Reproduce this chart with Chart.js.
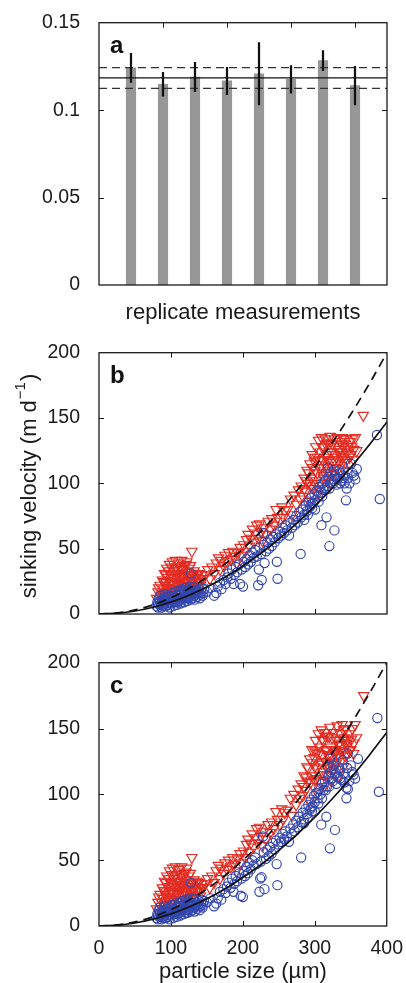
<!DOCTYPE html>
<html>
<head>
<meta charset="utf-8">
<script src="https://cdn.jsdelivr.net/npm/chart.js@4.4.1/dist/chart.umd.min.js"></script>
<style>
body { margin: 0; background: #fff; }
#wrap { position: relative; width: 406px; height: 983px; }
.box { position: absolute; left: 0; width: 406px; }
</style>
</head>
<body>
<div id="wrap">
  <div class="box" style="top:0;height:330px"><canvas id="chartA"></canvas></div>
  <div class="box" style="top:330px;height:310px"><canvas id="chartB"></canvas></div>
  <div class="box" style="top:640px;height:343px"><canvas id="chartC"></canvas></div>
</div>
<script>
// panel a: replicate measurements
const replicates = [1, 2, 3, 4, 5, 6, 7, 8];
const replicateMeans = [0.1242, 0.1148, 0.1189, 0.1167, 0.1208, 0.1176, 0.1283, 0.1140];
const replicateErrors = [0.0083, 0.0068, 0.0084, 0.0078, 0.0178, 0.0079, 0.0058, 0.0110];
const overallMean = 0.1185;
const overallLow = 0.1125;
const overallHigh = 0.1243;

// fitted curves (panels b and c)
const fitSizes = [0, 25, 50, 75, 100, 125, 150, 175, 200, 225, 250, 275, 300, 325, 350, 375, 400];
const fitSolid = [0, 0.6, 2.3, 5.2, 9.2, 14.4, 20.7, 28.1, 36.8, 46.5, 57.4, 69.5, 82.7, 97.0, 112.5, 129.2, 147];
const fitDashed = [0, 0.8, 3.1, 7.0, 12.5, 19.5, 28.1, 38.3, 50, 63.3, 78.1, 94.5, 112.5, 132, 153.1, 175.8, 200];

// panel b points [size, velocity]
const bRed = [
  [80,12],[82,17],[84,9],[85,22],[86,14],[88,26],[89,11],[90,19],[91,31],[92,15],[93,24],[94,35],[95,12],[96,28],[97,20],[98,38],[99,16],[100,30],[101,24],[102,40],[103,19],[104,33],[105,27],[106,41],[107,15],[108,36],[109,22],[110,30],[111,39],[112,18],[113,26],[114,34],[115,41],[116,21],[117,29],[118,37],[119,14],[120,25],[121,32],[122,40],[123,19],[124,28],[125,35],[126,22],[127,30],[129,48],[130,26],[132,33],[133,20],[135,28],[137,24],[139,31],[141,22],[144,27],
  [83,20],[87,16],[90,25],[93,30],[95,20],[97,33],[99,24],[101,36],[103,28],[105,35],[107,24],[109,31],[111,25],[113,36],[115,28],[117,34],[119,30],[121,38],[123,26],[125,30],[127,37],[128,24],[131,30],[134,24],[136,31],[138,27],[140,25],[143,30],[100,20],[110,22],[120,18],[130,20],[92,22],[96,17],[104,23],[108,28],[114,29],[118,24],[122,22],[126,27],
  [148,30],[151,34],[154,27],[157,36],[160,31],[163,39],[166,43],[168,34],[170,41],[173,37],[175,45],[178,40],[180,47],[183,42],[186,48],[188,44],[191,39],[193,47],[196,51],[198,45],[201,53],[203,48],[205,57],[207,61],[209,52],[211,58],[213,65],[215,55],[217,62],[219,68],[221,58],[223,69],[225,63],[227,56],[229,66],[232,61],[235,71],[238,65],[240,73],[243,68],[246,80],[248,74],[251,71],[254,82],[256,74],[258,79],
  [262,80],[266,88],[268,76],[271,91],[274,84],[277,95],[279,88],[281,98],[283,90],[285,104],[287,94],[289,110],[290,100],[292,86],[293,115],[295,104],[296,122],[298,96],[299,117],[300,110],[301,128],[302,102],[303,120],[304,92],[305,133],[306,112],[307,124],[308,100],[309,135],[310,118],[311,106],[312,128],[313,96],[314,134],[315,114],[316,122],[317,104],[318,131],[319,118],[320,110],[321,136],[322,124],[323,100],[324,130],[325,116],[326,108],[327,134],[328,122],[329,112],[330,128],[331,135],[332,118],[333,104],[334,126],[335,132],[336,114],[337,124],[338,135],[339,120],[340,110],[341,130],[342,126],[343,134],[344,118],[346,128],[348,132],[350,122],[352,134],[354,126],[356,135],[358,125],[367,152],
  [285,96],[288,102],[291,108],[294,98],[297,112],[300,100],[303,108],[306,118],[309,112],[312,104],[315,120],[318,108],[321,116],[324,112],[327,118],[330,112],[333,124],[336,120],[339,128],[342,116],[345,124],[348,120],[351,128],[354,118],[310,128],[320,130],[330,120],[340,134],[300,120],[315,130]
];
const bBlue = [
  [80,6],[81,9],[82,5],[83,12],[84,7],[85,14],[86,8],[87,5],[88,10],[89,6],[90,12],[91,8],[92,15],[93,6],[94,10],[95,7],[96,13],[97,9],[98,5],[99,11],[100,8],[101,16],[102,10],[103,6],[104,13],[105,9],[106,17],[107,11],[108,7],[109,14],[110,10],[111,18],[112,12],[113,8],[114,15],[115,11],[116,19],[117,13],[118,9],[119,16],[120,12],[121,20],[122,14],[123,10],[124,17],[125,13],[126,21],[127,15],[128,31],[129,18],[130,12],[131,16],[132,20],[133,11],[134,15],[135,18],[136,13],[138,16],[140,12],[142,17],[144,14],[146,19],
  [82,8],[85,10],[88,7],[91,11],[94,13],[97,11],[100,14],[103,10],[106,12],[109,9],[112,15],[115,13],[118,15],[121,10],[124,12],[127,11],[130,15],[133,14],[136,17],[139,19],[141,15],[143,20],[145,16],[131,21],[125,19],[119,18],[113,17],
  [150,17],[155,20],[160,14],[163,16],[165,21],[168,24],[170,19],[173,26],[176,23],[178,28],[180,31],[183,27],[185,34],[187,23],[188,30],[190,36],[192,32],[195,38],[196,23],[198,34],[200,21],[201,40],[203,36],[205,42],[207,38],[209,45],[211,40],[213,47],[215,43],[217,49],[219,44],[221,22],[222,34],[223,51],[225,46],[226,26],[228,62],[229,53],[230,39],[232,48],[234,55],[236,50],[238,57],[240,52],[242,59],[244,55],[246,61],[247,40],[248,27],[249,58],[251,63],[253,60],[255,66],[257,62],[259,68],
  [261,64],[264,60],[266,70],[268,66],[270,72],[272,68],[274,75],[276,70],[278,78],[280,46],[281,74],[283,80],[285,76],[287,83],[289,79],[291,86],[293,82],[295,89],[296,81],[297,85],[299,92],[300,87],[302,94],[304,90],[306,97],[308,93],[309,68],[310,100],[312,95],[314,102],[316,74],[317,98],[318,112],[319,105],[320,52],[321,100],[322,108],[324,103],[326,110],[327,64],[328,106],[330,99],[332,104],[334,110],[335,108],[337,102],[339,106],[341,100],[343,87],[344,96],[346,104],[348,100],[350,115],[352,108],[354,106],[356,103],[358,111],[386,137],[390,88],
  [300,80],[305,86],[310,90],[315,95],[320,96],[325,100],[330,104],[335,100],[340,104],[345,108],[290,76],[295,84],[285,72]
];

// panel c points [size, velocity]
const cRed = [
  [80,13],[82,18],[84,10],[85,24],[86,15],[88,29],[89,12],[90,21],[91,34],[92,16],[93,26],[94,38],[95,13],[96,30],[97,22],[98,42],[99,17],[100,32],[101,26],[102,44],[103,20],[104,36],[105,29],[106,45],[107,16],[108,39],[109,24],[110,33],[111,43],[112,19],[113,28],[114,37],[115,45],[116,23],[117,31],[118,40],[119,15],[120,27],[121,35],[122,44],[123,20],[124,30],[125,38],[126,24],[127,32],[129,52],[130,28],[132,35],[133,21],[135,30],[137,26],[139,33],[141,23],[144,29],
  [83,22],[87,18],[90,27],[93,33],[95,22],[97,36],[99,26],[101,39],[103,31],[105,38],[107,26],[109,34],[111,28],[113,39],[115,31],[117,37],[119,33],[121,41],[123,28],[125,33],[127,40],[128,26],[131,33],[134,26],[136,34],[138,29],[140,27],[143,32],[100,22],[110,24],[120,20],[130,22],[92,24],[96,19],[104,25],[108,30],[114,31],[118,26],[122,24],[126,29],
  [148,32],[151,36],[154,29],[157,38],[160,33],[163,42],[166,46],[168,36],[170,44],[173,40],[175,48],[178,43],[180,50],[183,45],[186,52],[188,47],[191,42],[193,51],[196,55],[198,48],[201,57],[203,52],[205,62],[207,66],[209,56],[211,63],[213,70],[215,60],[217,67],[219,74],[221,63],[223,75],[225,68],[227,61],[229,72],[232,66],[235,77],[238,71],[240,79],[243,74],[246,87],[248,81],[251,77],[254,89],[256,81],[258,86],
  [262,88],[266,97],[268,84],[271,100],[274,92],[277,104],[279,97],[281,108],[283,99],[285,114],[287,103],[289,121],[290,110],[292,95],[293,127],[295,114],[296,134],[298,106],[299,128],[300,121],[301,141],[302,112],[303,132],[304,101],[305,146],[306,123],[307,136],[308,110],[309,149],[310,130],[311,117],[312,141],[313,106],[314,147],[315,125],[316,134],[317,114],[318,144],[319,130],[320,121],[321,151],[322,136],[323,110],[324,143],[325,128],[326,119],[327,147],[328,134],[329,123],[330,141],[331,152],[332,130],[333,114],[334,139],[335,146],[336,125],[337,137],[338,153],[339,132],[340,121],[341,143],[342,139],[343,150],[344,130],[346,141],[348,146],[350,134],[352,150],[354,139],[356,153],[358,143],[368,175],
  [285,106],[288,113],[291,120],[294,109],[297,124],[300,111],[303,120],[306,131],[309,124],[312,115],[315,133],[318,120],[321,129],[324,124],[327,131],[330,124],[333,138],[336,133],[339,142],[342,129],[345,138],[348,133],[351,142],[354,131],[310,142],[320,144],[330,133],[340,149],[300,133],[315,144]
];
const cBlue = [
  [80,6],[81,9],[82,5],[83,12],[84,7],[85,14],[86,8],[87,5],[88,10],[89,6],[90,12],[91,8],[92,15],[93,6],[94,10],[95,7],[96,13],[97,9],[98,5],[99,11],[100,8],[101,16],[102,10],[103,6],[104,13],[105,9],[106,17],[107,11],[108,7],[109,14],[110,10],[111,18],[112,12],[113,8],[114,15],[115,11],[116,19],[117,13],[118,9],[119,16],[120,12],[121,20],[122,14],[123,10],[124,17],[125,13],[126,21],[127,15],[128,33],[129,18],[130,12],[131,16],[132,20],[133,11],[134,15],[135,18],[136,13],[138,16],[140,12],[142,17],[144,14],[146,19],
  [82,8],[85,10],[88,7],[91,11],[94,13],[97,11],[100,14],[103,10],[106,12],[109,9],[112,15],[115,13],[118,15],[121,10],[124,12],[127,11],[130,15],[133,14],[136,17],[139,19],[141,15],[143,20],[145,16],[131,21],[125,19],[119,18],[113,17],
  [150,18],[155,21],[160,15],[163,17],[165,21],[168,26],[170,20],[173,28],[176,25],[178,30],[180,33],[183,29],[185,36],[187,26],[188,32],[190,38],[192,34],[195,40],[197,23],[198,36],[200,22],[201,42],[203,38],[205,45],[207,40],[209,48],[211,43],[213,50],[215,46],[217,52],[219,47],[223,26],[224,36],[225,49],[226,37],[228,68],[229,56],[230,28],[232,51],[234,58],[236,53],[238,60],[240,55],[242,63],[244,58],[246,65],[247,47],[248,31],[249,62],[251,67],[253,64],[255,70],[257,66],[259,72],
  [261,68],[264,64],[266,74],[268,70],[270,77],[272,72],[274,80],[276,75],[278,83],[281,52],[281,79],[283,86],[285,81],[287,89],[289,85],[291,92],[293,88],[295,96],[296,87],[297,91],[299,99],[300,94],[302,101],[304,97],[306,104],[308,100],[309,77],[310,108],[312,103],[314,110],[316,83],[317,106],[318,121],[319,114],[321,59],[321,127],[322,117],[324,112],[325,122],[326,119],[328,73],[328,115],[330,108],[332,113],[334,120],[335,118],[337,111],[339,126],[341,109],[344,97],[344,105],[346,131],[346,104],[348,110],[350,122],[352,117],[354,115],[356,112],[360,127],[387,158],[389,102],
  [300,87],[305,93],[310,97],[315,103],[320,106],[325,110],[330,116],[335,112],[340,116],[345,120],[290,82],[295,90],[285,78]
];

const FONT = '"Liberation Sans", Arial, Helvetica, sans-serif';
const INK = '#1a1a1a';
const RED = '#e22c22';
const BLUE = '#3246ae';

// matlab style box, inward ticks, panel letter, y label
const matlabBox = {
  id: 'matlabBox',
  beforeDatasetsDraw(chart) {
    const {ctx, chartArea: a, scales} = chart;
    const len = 5;
    ctx.save();
    ctx.strokeStyle = INK;
    ctx.lineWidth = 1;
    ctx.beginPath();
    const xs = scales.x, ys = scales.y;
    xs.ticks.forEach(t => {
      if (t.value <= xs.min || t.value >= xs.max) return;
      const px = Math.round(xs.getPixelForValue(t.value)) + 0.5;
      ctx.moveTo(px, a.bottom); ctx.lineTo(px, a.bottom - len);
      ctx.moveTo(px, a.top); ctx.lineTo(px, a.top + len);
    });
    ys.ticks.forEach(t => {
      if (t.value <= ys.min || t.value >= ys.max) return;
      const py = Math.round(ys.getPixelForValue(t.value)) + 0.5;
      ctx.moveTo(a.left, py); ctx.lineTo(a.left + len, py);
      ctx.moveTo(a.right, py); ctx.lineTo(a.right - len, py);
    });
    ctx.stroke();
    ctx.restore();
  },
  afterDraw(chart, args, opts) {
    const {ctx, chartArea: a} = chart;
    ctx.save();
    ctx.strokeStyle = INK;
    ctx.lineWidth = 1.3;
    ctx.strokeRect(a.left, a.top, a.right - a.left, a.bottom - a.top);
    ctx.fillStyle = '#111';
    ctx.font = 'bold 24px ' + FONT;
    ctx.textBaseline = 'alphabetic';
    ctx.textAlign = 'left';
    ctx.fillText(opts.letter, a.left + 11, a.top + 30);
    if (opts.yLabel) {
      ctx.fillStyle = INK;
      ctx.translate(opts.yLabel.x, opts.yLabel.y);
      ctx.rotate(-Math.PI / 2);
      const main = 'sinking velocity (m d', sup = '\u22121', tail = ')';
      ctx.font = '22px ' + FONT;
      const w1 = ctx.measureText(main).width, w3 = ctx.measureText(tail).width;
      ctx.font = '15px ' + FONT;
      const w2 = ctx.measureText(sup).width;
      let x = -(w1 + w2 + w3) / 2;
      ctx.textBaseline = 'middle';
      ctx.font = '22px ' + FONT;
      ctx.fillText(main, x, 0);
      x += w1;
      ctx.font = '15px ' + FONT;
      ctx.fillText(sup, x + 1, -9);
      x += w2 + 2;
      ctx.font = '22px ' + FONT;
      ctx.fillText(tail, x, 0);
    }
    ctx.restore();
  }
};

Chart.defaults.font.family = FONT;
Chart.defaults.color = INK;
Chart.defaults.animation = false;

const tickFont = {size: 19.5, family: FONT};

// panel a
new Chart(document.getElementById('chartA'), {
  type: 'bar',
  data: {
    datasets: [
      {
        type: 'bar', order: 0, grouped: false,
        data: replicates.map((r, i) => ({x: r, y: [replicateMeans[i] - replicateErrors[i], replicateMeans[i] + replicateErrors[i]]})),
        backgroundColor: '#111', barThickness: 1.6
      },
      {
        type: 'line', order: 1,
        data: [{x: 0, y: overallMean}, {x: 9, y: overallMean}],
        borderColor: '#111', borderWidth: 1.2, pointRadius: 0
      },
      {
        type: 'line', order: 1,
        data: [{x: 0, y: overallHigh}, {x: 9, y: overallHigh}],
        borderColor: '#333', borderWidth: 1.3, borderDash: [8, 5], pointRadius: 0
      },
      {
        type: 'line', order: 1,
        data: [{x: 0, y: overallLow}, {x: 9, y: overallLow}],
        borderColor: '#333', borderWidth: 1.3, borderDash: [8, 5], pointRadius: 0
      },
      {
        type: 'bar', order: 3, grouped: false,
        data: replicates.map((r, i) => ({x: r, y: replicateMeans[i]})),
        backgroundColor: '#979797', barThickness: 9.5
      }
    ]
  },
  options: {
    responsive: true,
    maintainAspectRatio: false,
    layout: {padding: {left: 0, right: 19, top: 18, bottom: 0}},
    plugins: {
      legend: {display: false},
      tooltip: {enabled: false},
      matlabBox: {letter: 'a'}
    },
    scales: {
      x: {
        type: 'linear', min: 0, max: 9, offset: false,
        grid: {display: false},
        border: {display: false},
        ticks: {display: false, stepSize: 2, includeBounds: false},
        title: {display: true, text: 'replicate measurements', font: {size: 22, lineHeight: 1}, padding: {top: 0, bottom: 6}},
        afterFit: s => { s.height = 45; }
      },
      y: {
        min: 0, max: 0.15,
        grid: {display: false},
        border: {display: false},
        ticks: {stepSize: 0.05, padding: 11, font: tickFont, callback: v => String(+v.toFixed(2))},
        afterFit: s => { s.width = 99; }
      }
    }
  },
  plugins: [matlabBox]
});

function scatterChart(id, red, blue, opts) {
  return new Chart(document.getElementById(id), {
    type: 'scatter',
    data: {
      datasets: [
        {
          order: 0, showLine: true,
          data: fitSizes.map((x, i) => ({x: x, y: fitDashed[i]})),
          borderColor: '#111', borderWidth: 1.7, borderDash: [9, 6],
          pointRadius: 0, cubicInterpolationMode: 'monotone'
        },
        {
          order: 1, showLine: true,
          data: fitSizes.map((x, i) => ({x: x, y: fitSolid[i]})),
          borderColor: '#111', borderWidth: 1.7,
          pointRadius: 0, cubicInterpolationMode: 'monotone'
        },
        {
          order: 2,
          data: blue.map(p => ({x: p[0], y: p[1]})),
          pointStyle: 'circle', pointRadius: 4.6, pointBorderWidth: 1.15,
          pointBorderColor: BLUE, pointBackgroundColor: 'rgba(0,0,0,0)'
        },
        {
          order: 3,
          data: red.map(p => ({x: p[0], y: p[1]})),
          pointStyle: 'triangle', pointRotation: 180, pointRadius: 6, pointBorderWidth: 1.15,
          pointBorderColor: RED, pointBackgroundColor: 'rgba(0,0,0,0)'
        }
      ]
    },
    options: {
      responsive: true,
      maintainAspectRatio: false,
      layout: {padding: {left: 0, right: 19, top: opts.top, bottom: 0}},
      plugins: {
        legend: {display: false},
        tooltip: {enabled: false},
        matlabBox: {letter: opts.letter, yLabel: opts.yLabel}
      },
      scales: {
        x: {
          type: 'linear', min: 0, max: 400,
          grid: {display: false},
          border: {display: false},
          ticks: {display: opts.xLabels, stepSize: 100, padding: 3, font: tickFont},
          title: {display: opts.xLabels, text: 'particle size (\u00b5m)', font: {size: 22, lineHeight: 1}, padding: {top: 0, bottom: 0}},
          afterFit: s => { s.height = opts.xHeight; }
        },
        y: {
          min: 0, max: 200,
          grid: {display: false},
          border: {display: false},
          ticks: {stepSize: 50, padding: 11, font: tickFont},
          afterFit: s => { s.width = 99; }
        }
      }
    },
    plugins: [matlabBox]
  });
}

scatterChart('chartB', bRed, bBlue, {letter: 'b', top: 18, xHeight: 26, xLabels: false, yLabel: {x: 30, y: 157}});
scatterChart('chartC', cRed, cBlue, {letter: 'c', top: 19, xHeight: 57, xLabels: true});
</script>
</body>
</html>
